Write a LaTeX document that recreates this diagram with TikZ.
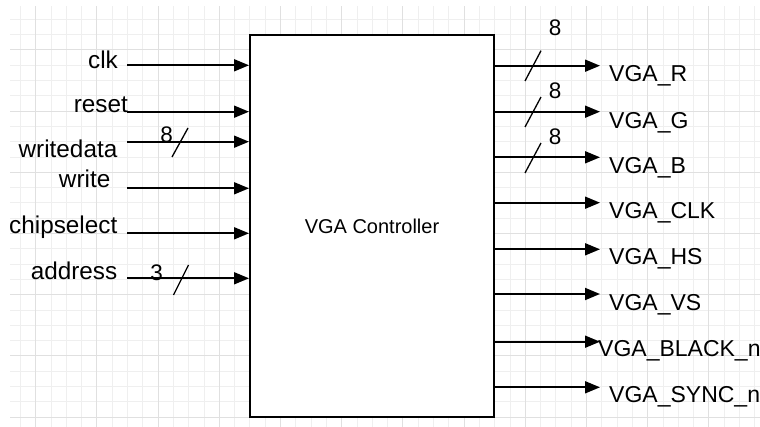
\documentclass[tikz,border=0pt]{standalone}
\usepackage{fontspec}
\setmainfont{Liberation Sans}
\usetikzlibrary{arrows.meta}
\definecolor{gridminor}{HTML}{EFEFEF}
\definecolor{gridmajor}{HTML}{E0E0E0}
\begin{document}
\begin{tikzpicture}[x=1pt,y=-1pt,
  sig/.style={line width=1.8pt,-{Triangle[length=15pt,width=12pt]}},
  bus/.style={line width=1.3pt},
  lbl/.style={font=\fontsize{23}{26}\selectfont,inner sep=0pt},
  lbll/.style={font=\fontsize{24.3}{27}\selectfont,inner sep=0pt},
  num/.style={font=\fontsize{22.5}{25}\selectfont,inner sep=0pt},
  boxstyle/.style={draw,line width=2pt,fill=white,minimum width=244pt,minimum height=382pt,inner sep=0pt,font=\fontsize{20}{24}\selectfont}]
\useasboundingbox[fill=white] (0,0) rectangle (760,427);
% grid
\begin{scope}
\clip (10,7) rectangle (760,427);
\foreach \i in {-1,...,47} \draw[gridminor,line width=1pt] ({35.7+15.3*\i},0) -- ({35.7+15.3*\i},427);
\foreach \i in {-3,...,25} \draw[gridminor,line width=1pt] (0,{50+15.3*\i}) -- (760,{50+15.3*\i});
\foreach \i in {-1,...,12} \draw[gridmajor,line width=1pt] ({35.7+61.2*\i},0) -- ({35.7+61.2*\i},427);
\foreach \i in {-1,...,6} \draw[gridmajor,line width=1pt] (0,{50+61.2*\i}) -- (760,{50+61.2*\i});
\end{scope}
% controller box
\node[boxstyle] (ctrl) at (372,226) {VGA Controller};
% inputs
\coordinate (iclk) at (127,65.3);
\coordinate (ireset) at (127,111.7);
\coordinate (iwd) at (127,141.7);
\coordinate (iwr) at (127,188.3);
\coordinate (ics) at (127,233.3);
\coordinate (iad) at (127,278.3);
\foreach \c in {iclk,ireset,iwd,iwr,ics,iad} \draw[sig] (\c) -- (\c -| ctrl.west);
\node[lbll,anchor=base east] (lclk) at (118,69) {clk};
\node[lbll,anchor=base east] (lreset) at (128,112.5) {reset};
\node[lbll,anchor=base east] (lwd) at (117.5,158) {writedata};
\node[lbll,anchor=base east] (lwr) at (110.5,187.5) {write};
\node[lbll,anchor=base east] (lcs) at (117.5,233.3) {chipselect};
\node[lbll,anchor=base east] (lad) at (117.5,280) {address};
% input bus marks
\draw[bus] (172,157) -- (188,128);
\node[num,anchor=base] (nwd) at (166.7,142.7) {8};
\draw[bus] (173.5,295) -- (188.5,265);
\node[num,anchor=base] (nad) at (156.7,280.7) {3};
% outputs
\coordinate (oR) at (600,65.7);
\coordinate (oG) at (600,111.7);
\coordinate (oB) at (600,157.3);
\coordinate (oCLK) at (600,202.7);
\coordinate (oHS) at (600,249.3);
\coordinate (oVS) at (600,294);
\coordinate (oBL) at (600,341.7);
\coordinate (oSY) at (600,387.3);
\foreach \c in {oR,oG,oB,oCLK,oHS,oVS,oBL,oSY} \draw[sig] (\c -| ctrl.east) -- (\c);
\node[lbl,anchor=base west] (lR) at (609,82) {VGA\_R};
\node[lbl,anchor=base west] (lG) at (609,128.3) {VGA\_G};
\node[lbl,anchor=base west] (lB) at (609,174) {VGA\_B};
\node[lbl,anchor=base west] (lCLK) at (609,219) {VGA\_CLK};
\node[lbl,anchor=base west] (lHS) at (609,265) {VGA\_HS};
\node[lbl,anchor=base west] (lVS) at (609,310.7) {VGA\_VS};
\node[lbl,anchor=base west] (lBL) at (598,356.7) {VGA\_BLACK\_n};
\node[lbl,anchor=base west] (lSY) at (609,402.7) {VGA\_SYNC\_n};
% output bus marks
\draw[bus] (525,81) -- (541,50.7);
\node[num,anchor=base] (nR) at (555,36) {8};
\draw[bus] (525,127) -- (541,97);
\node[num,anchor=base] (nG) at (555,98.3) {8};
\draw[bus] (525,173) -- (541,143);
\node[num,anchor=base] (nB) at (555,144.3) {8};
\end{tikzpicture}
\end{document}
